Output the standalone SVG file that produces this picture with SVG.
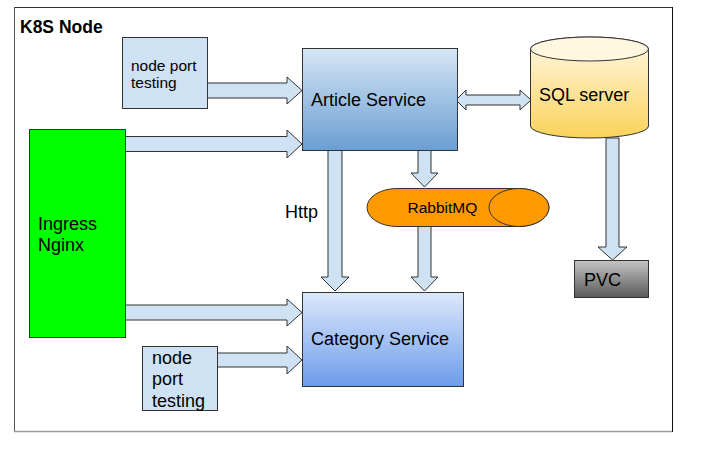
<svg xmlns="http://www.w3.org/2000/svg" width="710" height="454" viewBox="0 0 710 454">
<defs>
<linearGradient id="gArt" x1="0" y1="0" x2="0" y2="1"><stop offset="0" stop-color="#d6e6f6"/><stop offset="1" stop-color="#6a9ed2"/></linearGradient>
<linearGradient id="gCat" x1="0" y1="0" x2="0" y2="1"><stop offset="0" stop-color="#dce8fb"/><stop offset="1" stop-color="#6c9ceb"/></linearGradient>
<linearGradient id="gSql" x1="0" y1="0" x2="0" y2="1"><stop offset="0" stop-color="#fff8e4"/><stop offset="1" stop-color="#fbd25a"/></linearGradient>
<linearGradient id="gPvc" x1="0" y1="0" x2="0" y2="1"><stop offset="0" stop-color="#c4c4c4"/><stop offset="1" stop-color="#595959"/></linearGradient>
</defs>
<style>
text{font-family:"Liberation Sans",Arial,sans-serif;fill:#000}
.box{stroke:#333;stroke-width:1}
.arr{fill:#cfe2f3;stroke:#333;stroke-width:1;stroke-linejoin:miter}
.t18{font-size:18px}
.t15{font-size:15.5px}
</style>
<g id="frame">
<rect x="14.5" y="7.5" width="658" height="424" fill="#fff" stroke="none"/>
<line x1="14.5" y1="7.5" x2="672.5" y2="7.5" stroke="#333"/>
<line x1="672.5" y1="7" x2="672.5" y2="432" stroke="#111"/>
<line x1="14.5" y1="7" x2="14.5" y2="432" stroke="#555"/>
<line x1="14" y1="431.5" x2="672" y2="431.5" stroke="#999" stroke-width="1.5"/>
<text x="20" y="33" style="font-size:17.5px;font-weight:bold">K8S Node</text>
</g>
<g id="connectors">
<polygon class="arr" points="207,83 287,83 287,77 302,90.5 287,104 287,98 207,98"/>
<polygon class="arr" points="125,136.5 287,136.5 287,130 302,144 287,158 287,151.5 125,151.5"/>
<polygon class="arr" points="125,305 287,305 287,299 302,312.5 287,326 287,320 125,320"/>
<polygon class="arr" points="217,353 287,353 287,346 302,360 287,374 287,367 217,367"/>
<polygon class="arr" points="456,100 466,90 466,95 520,95 520,90 531,100 520,110 520,105 466,105 466,110"/>
<polygon class="arr" points="418,150 431,150 431,173 438,173 424.5,187 411,173 418,173"/>
<polygon class="arr" points="418,226 431,226 431,277 438,277 424.5,291 411,277 418,277"/>
<polygon class="arr" points="328,150 342,150 342,277 349,277 335,291 321,277 328,277"/>
<polygon class="arr" points="606,138 619,138 619,247 627,247 612.5,260 598,247 606,247"/>
<text class="t18" x="285" y="218">Http</text>
</g>
<g id="nodeport1">
<rect class="box" x="122.5" y="37.5" width="85" height="71" fill="#cfe2f3"/>
<text class="t15" x="131" y="70.5">node port</text>
<text class="t15" x="131" y="87.5">testing</text>
</g>
<g id="article">
<rect class="box" x="302.5" y="48.5" width="155" height="102" fill="url(#gArt)"/>
<text class="t18" x="311" y="106">Article Service</text>
</g>
<g id="ingress">
<rect class="box" x="29.5" y="129.5" width="96" height="208" fill="#00ff00"/>
<text class="t18" x="38" y="230">Ingress</text>
<text class="t18" x="38" y="251">Nginx</text>
</g>
<g id="sql">
<path class="box" d="M530.5,49 A59,12 0 0 1 648.5,49 V126 A59,12 0 0 1 530.5,126 Z" fill="url(#gSql)"/>
<ellipse class="box" cx="589.5" cy="49" rx="59" ry="12" fill="#fff7e0"/>
<text class="t18" x="539" y="101">SQL server</text>
</g>
<g id="rabbitmq">
<path class="box" d="M397,188.5 H519 A30,19 0 0 1 519,226.5 H397 A30,19 0 0 1 397,188.5 Z" fill="#ff9900"/>
<ellipse class="box" cx="519" cy="207.5" rx="30" ry="19" fill="#ff9900"/>
<text class="t15" x="407.5" y="213">RabbitMQ</text>
</g>
<g id="pvc">
<rect class="box" x="574.5" y="260.5" width="74" height="37" fill="url(#gPvc)"/>
<text class="t18" x="584" y="286">PVC</text>
</g>
<g id="category">
<rect class="box" x="302.5" y="292.5" width="161" height="94" fill="url(#gCat)"/>
<text class="t18" x="311" y="345">Category Service</text>
</g>
<g id="nodeport2">
<rect class="box" x="142.5" y="346.5" width="75" height="64" fill="#cfe2f3"/>
<text class="t18" x="152" y="363.5">node</text>
<text class="t18" x="152" y="385">port</text>
<text class="t18" x="152" y="406.5">testing</text>
</g>
</svg>
